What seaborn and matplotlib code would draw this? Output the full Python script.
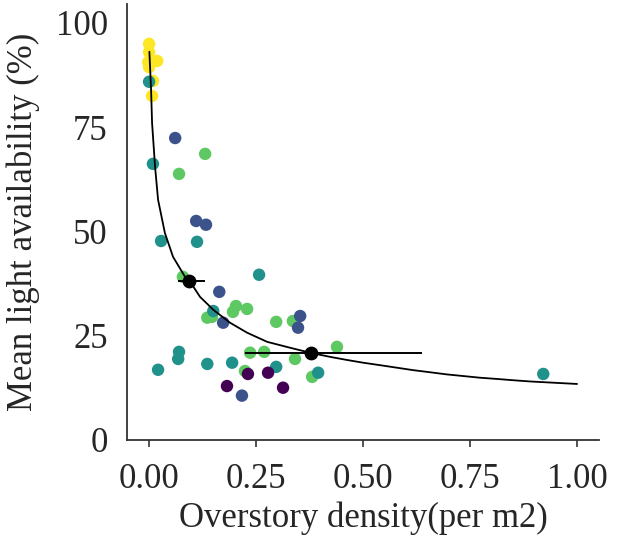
import numpy as np
import pandas as pd
import seaborn as sns
import matplotlib.pyplot as plt

# scatter points, one list per group
grp1_x = [0.000, 0.000, -0.002, 0.019, 0.000, 0.009, 0.007]
grp1_y = [95.0, 93.0, 90.6, 90.9, 89.4, 86.1, 82.5]

grp2_x = [0.000, 0.009, 0.028, 0.112, 0.257, 0.150, 0.070, 0.068, 0.021, 0.136, 0.194, 0.297, 0.395, 0.921]
grp2_y = [85.9, 66.2, 47.7, 47.5, 39.6, 30.9, 21.1, 19.4, 16.8, 18.2, 18.5, 17.5, 16.1, 15.8]

grp3_x = [0.061, 0.110, 0.133, 0.164, 0.173, 0.353, 0.348, 0.217]
grp3_y = [72.4, 52.5, 51.6, 35.5, 28.1, 29.7, 26.9, 10.6]

grp4_x = [0.131, 0.070, 0.079, 0.203, 0.196, 0.229, 0.136, 0.147, 0.297, 0.336, 0.236, 0.269, 0.341, 0.439, 0.224, 0.381]
grp4_y = [68.6, 63.8, 39.1, 32.1, 30.7, 31.4, 29.3, 29.5, 28.3, 28.5, 20.9, 21.1, 19.4, 22.3, 16.5, 15.1]

grp5_x = [0.231, 0.278, 0.182, 0.313]
grp5_y = [15.8, 16.1, 12.9, 12.5]

# fitted curve
curve_x = [0.0007, 0.0047, 0.007, 0.014, 0.021, 0.037, 0.056, 0.084, 0.096, 0.119, 0.150, 0.189,
           0.229, 0.276, 0.329, 0.376, 0.423, 0.460, 0.500, 0.540, 0.579, 0.618, 0.657, 0.695,
           0.734, 0.773, 0.813, 0.850, 0.890, 0.945, 1.000]
curve_y = [93.1, 83.9, 76.0, 65.5, 57.6, 49.6, 43.9, 39.1, 37.9, 34.3, 31.2, 28.1,
           25.7, 23.5, 22.1, 20.9, 19.9, 19.2, 18.5, 17.9, 17.3, 16.7, 16.2, 15.7,
           15.3, 14.9, 14.6, 14.3, 14.0, 13.7, 13.4]

# group means with x range
mean_x = [0.093, 0.379]
mean_y = [38.1, 20.9]
mean_lo = [0.068, 0.224]
mean_hi = [0.131, 0.638]

colors = {"a": "#440154", "b": "#3b528b", "c": "#21918c", "d": "#5ec962", "e": "#fde725"}

df = pd.concat([
    pd.DataFrame({"x": grp1_x, "y": grp1_y, "g": "e"}),
    pd.DataFrame({"x": grp4_x, "y": grp4_y, "g": "d"}),
    pd.DataFrame({"x": grp2_x, "y": grp2_y, "g": "c"}),
    pd.DataFrame({"x": grp3_x, "y": grp3_y, "g": "b"}),
    pd.DataFrame({"x": grp5_x, "y": grp5_y, "g": "a"}),
])

sns.set_style("white")
plt.rcParams['font.family'] = ['Liberation Serif', 'DejaVu Serif']

fig = plt.figure(figsize=(6.26, 5.45), dpi=100)
ax = fig.add_axes([0.203, 0.193, 0.754, 0.800])

sns.scatterplot(data=df, x="x", y="y", hue="g", palette=colors, s=80, linewidth=0,
                legend=False, ax=ax, zorder=2)
ax.plot(curve_x, curve_y, color="black", lw=1.3, zorder=3)
ax.hlines(mean_y, mean_lo, mean_hi, color="black", lw=1.4, zorder=4)
ax.scatter(mean_x, mean_y, color="black", s=80, zorder=5)

ax.set_xlim(-0.0514, 1.0514)
ax.set_ylim(0, 104.6)
ax.set_xticks([0, 0.25, 0.5, 0.75, 1.0])
ax.set_xticklabels(["0.00", "0.25", "0.50", "0.75", "1.00"])
ax.set_yticks([0, 25, 50, 75, 100])
ax.tick_params(axis="x", length=5, width=1.2, color="#333333", labelsize=25, pad=12, bottom=True)
ax.tick_params(axis="y", length=0, labelsize=25, pad=14)
sns.despine(ax=ax)
for side in ["left", "bottom"]:
    ax.spines[side].set_color("#333333")
    ax.spines[side].set_linewidth(1.3)
ax.set_xlabel("Overstory density(per m2)", fontsize=25, labelpad=4)
ax.set_ylabel("Mean light availability (%)", fontsize=25, labelpad=11)

fig.savefig("out.png", dpi=100)
